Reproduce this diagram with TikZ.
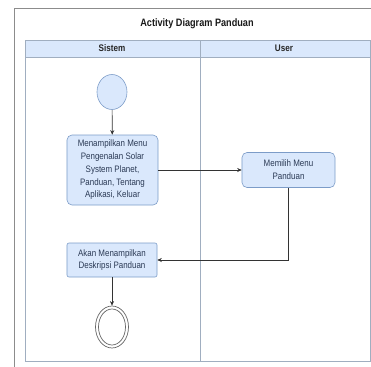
\documentclass[tikz,border=0pt]{standalone}
\usepackage{fontspec}
\setmainfont[FakeStretch=0.85]{Liberation Sans}
\usetikzlibrary{arrows.meta,shapes.geometric}
\definecolor{lanefill}{HTML}{DAE8FC}
\definecolor{laneline}{HTML}{A0AEC0}
\definecolor{boxline}{HTML}{7C9CC8}
\definecolor{txt}{HTML}{2B3A55}
\tikzset{
  actbox/.style={draw=boxline, fill=lanefill, line width=0.6bp, align=center, inner sep=0pt,
     font=\fontsize{9.4}{12.8}\selectfont, text=txt},
  flow/.style={draw=black!80, line width=0.7bp, -{Stealth[length=4.5bp,width=4bp]}},
  lanehead/.style={font=\fontsize{9.6}{11}\bfseries\selectfont, text=black!85},
}
\begin{document}
\begin{tikzpicture}[x=1bp,y=-1bp]
\useasboundingbox (0,0) rectangle (371,367);
\clip (0,0) rectangle (371,367);
% outer frame
\draw[draw=black!45, line width=0.8bp] (14,8) -- (372,8);
\draw[draw=black!45, line width=0.8bp] (14,8) -- (14,370);
\node[font=\fontsize{10.8}{12}\bfseries\selectfont, text=black!90] (title) at (197,24) {Activity Diagram Panduan};
% lanes
\fill[lanefill] (25,40) rectangle (370,57);
\draw[draw=laneline, line width=0.7bp] (25,40) rectangle (370,361);
\draw[draw=laneline, line width=0.7bp] (25,57) -- (370,57);
\draw[draw=laneline, line width=0.7bp] (200,40) -- (200,361);
\node[lanehead] (h1) at (112,48.5) {Sistem};
\node[lanehead] (h2) at (284,48.5) {User};
% nodes
\node[ellipse, draw=boxline, fill=lanefill, line width=0.6bp, minimum width=30bp, minimum height=35bp, inner sep=0pt] (start) at (112,92) {};
\node[actbox, rounded corners=5bp, minimum width=91bp, minimum height=70bp] (b1) at (112.5,170)
  {Menampilkan Menu\\Pengenalan Solar\\System Planet,\\Panduan, Tentang\\Aplikasi, Keluar};
\node[actbox, rounded corners=5bp, minimum width=93bp, minimum height=35bp] (b2) at (288.5,170)
  {Memilih Menu\\Panduan};
\node[actbox, rounded corners=2bp, minimum width=90bp, minimum height=34bp] (b3) at (112,260)
  {Akan Menampilkan\\Deskripsi Panduan};
\node[ellipse, draw=black!60, line width=0.7bp, fill=white, minimum width=33bp, minimum height=42bp, inner sep=0pt] (end) at (112,327) {};
\node[ellipse, draw=black!60, line width=0.7bp, minimum width=27bp, minimum height=36bp, inner sep=0pt] (endin) at (112,327) {};
% connectors
\draw[flow] (start) -- (b1);
\draw[flow] (b1) -- (b2);
\draw[flow] (b2.south) |- (b3.east);
\draw[flow] (b3) -- (end);
\end{tikzpicture}
\end{document}
